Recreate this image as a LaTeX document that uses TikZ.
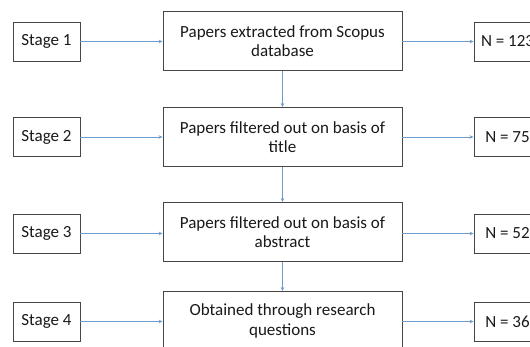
\documentclass[tikz,border=0pt]{standalone}
\usepackage{fontspec}
\setmainfont{Carlito}
\usetikzlibrary{arrows.meta}
\definecolor{boxline}{RGB}{70,70,70}
\definecolor{arrowc}{RGB}{110,155,205}
\definecolor{txt}{RGB}{25,25,25}
\begin{document}
\begin{tikzpicture}[x=1pt,y=-1pt,
  every node/.style={font=\fontsize{17}{19.5}\selectfont, text=txt},
  stagebox/.style={draw=boxline, line width=0.9pt, minimum width=67pt, minimum height=39pt, inner sep=0pt},
  mainbox/.style={draw=boxline, line width=0.9pt, minimum width=239pt, minimum height=59pt, align=center, inner sep=0pt},
  conn/.style={draw=arrowc, line width=0.8pt, -{Stealth[length=4pt,width=3.5pt]}}]
\useasboundingbox (0,0) rectangle (530,347);
\clip (0,0) rectangle (530,347);
\fill[white] (0,0) rectangle (530,347);
% stage boxes
\node[stagebox] (s1) at (46.5,41.5) {Stage 1};
\node[stagebox] (s2) at (46.5,137) {Stage 2};
\node[stagebox] (s3) at (46.5,233.5) {Stage 3};
\node[stagebox] (s4) at (46.5,321.5) {Stage 4};
% main boxes
\node[mainbox] (m1) at (282.5,41) {Papers extracted from Scopus\\database};
\node[mainbox] (m2) at (282.5,137) {Papers filtered out on basis of\\title};
\node[mainbox] (m3) at (282.5,232) {Papers filtered out on basis of\\abstract};
\node[mainbox] (m4) at (282.5,321) {Obtained through research\\questions};
% N boxes
\node[stagebox] (n1) at (507.5,41.5) {N = 123};
\node[stagebox] (n2) at (507.5,137) {N = 75};
\node[stagebox] (n3) at (507.5,233.5) {N = 52};
\node[stagebox] (n4) at (507.5,321.5) {N = 36};
% connectors
\foreach \i in {1,2,3,4}{
  \draw[conn] (s\i.east) -- (s\i.east -| m\i.west);
  \draw[conn] (m\i.east |- n\i.west) -- (n\i.west);
}
\draw[conn] (m1.south) -- (m2.north);
\draw[conn] (m2.south) -- (m3.north);
\draw[conn] (m3.south) -- (m4.north);
\end{tikzpicture}
\end{document}
